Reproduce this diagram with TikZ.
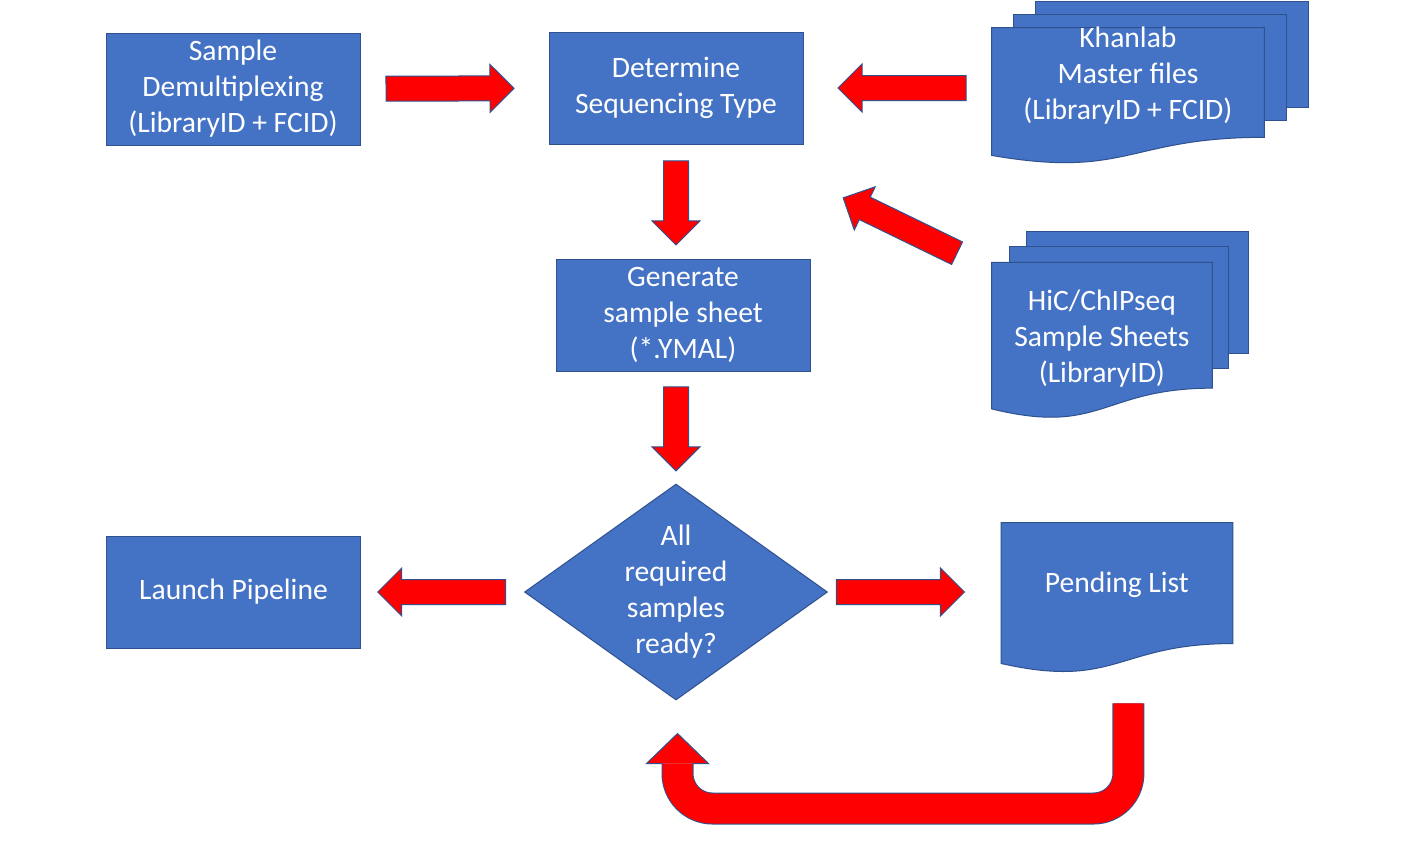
\documentclass[tikz,border=0pt]{standalone}
\usepackage{fontspec}
\setmainfont{Carlito}
\usetikzlibrary{shapes.geometric, shapes.arrows, positioning, calc}
\definecolor{boxblue}{RGB}{68,114,196}
\definecolor{edgeblue}{RGB}{47,82,143}
\definecolor{arrowred}{RGB}{255,0,0}

\begin{document}
\begin{tikzpicture}[
    x=0.5pt, y=-0.5pt,
    node distance=94pt,
    every node/.style={font=\fontsize{14.8}{18}\selectfont, text=white},
    process/.style={rectangle, minimum width=127pt, minimum height=56pt,
                    align=center, draw=edgeblue, fill=boxblue, line width=0.5pt},
    decision/.style={diamond, aspect=1.4, minimum width=151.5pt, minimum height=108pt,
                     inner sep=0pt, align=center, draw=edgeblue, fill=boxblue, line width=0.5pt},
    docframe/.style={rectangle, inner sep=0pt},
    doctext/.style={align=center},
    docshape/.style={draw=edgeblue, fill=boxblue, line width=0.5pt},
    blockarrow/.style={single arrow, draw=edgeblue, fill=arrowred, line width=0.5pt,
                       minimum width=23.5pt, minimum height=64pt,
                       inner xsep=0pt, inner ysep=6pt,
                       single arrow head extend=5.75pt, single arrow head indent=0pt,
                       anchor=tail, sloped, allow upside down},
    uturn/.style={draw=edgeblue, line width=0.5pt, double=arrowred,
                  double distance=15pt, rounded corners=17.5pt},
    uhead/.style={fill=arrowred, draw=edgeblue, line width=0.5pt}
]
\path[use as bounding box, fill=white] (0,0) rectangle (1422,848);

\node (determine) [process] at (676,88) {Determine\\Sequencing Type};
\node (sample) [process, left=of determine, yshift=-0.5pt] {Sample\\Demultiplexing\\(LibraryID + FCID)};
\node (generate) [process, below=57pt of determine, xshift=3.5pt] {Generate\\sample sheet\\(*.YMAL)};
\node (diamond) [decision, below=56pt of generate, xshift=-3.5pt] {All\\required\\samples\\ready?};
\node (launch) [process, left=81.5pt of diamond] {Launch Pipeline};

% document shapes
\node (khanlab) [docframe, minimum width=136pt, minimum height=68pt,
                 right=of determine, yshift=-4pt] {};
\node (hic) [docframe, minimum width=110pt, minimum height=78pt,
             below=49pt of khanlab.south west, anchor=north west] {};
\node (pending) [docframe, minimum width=115.5pt, minimum height=75pt,
                 right=86.5pt of diamond, yshift=-3pt] {};

\filldraw[docshape] ([shift={(44,-26)}]khanlab.north west) rectangle ([shift={(44,-57)}]khanlab.south east);
\filldraw[docshape] ([shift={(22,-13)}]khanlab.north west) rectangle ([shift={(22,-44)}]khanlab.south east);
\filldraw[docshape] ([shift={(35,-31)}]hic.north west) rectangle ([shift={(36,-66)}]hic.south east);
\filldraw[docshape] ([shift={(18,-16)}]hic.north west) rectangle ([shift={(16,-51)}]hic.south east);
\foreach \doc in {khanlab, hic, pending}
  \filldraw[docshape] (\doc.north west) -- (\doc.north east)
    -- ($(\doc.north east)!0.802!(\doc.south east)$)
    .. controls ($(\doc.north)!0.802!(\doc.south)$) and ($(\doc.north)!1.1075!(\doc.south)$)
    .. ($(\doc.north west)!0.934!(\doc.south west)$) -- cycle;

\node (khanlabtext) [doctext] at ([yshift=10pt]khanlab.center) {Khanlab\\Master files\\(LibraryID + FCID)};
\node (hictext) [doctext] at ([yshift=1pt]hic.center) {HiC/ChIPseq\\Sample Sheets\\(LibraryID)};
\node (pendingtext) [doctext] at ([yshift=6.5pt]pending.center) {Pending List};

% block arrows
\path (sample) -- node[blockarrow, pos=0.133] {} (determine);
\path (khanlab.west |- determine) -- node[blockarrow, pos=0.133] {} (determine);
\path (determine) -- node[blockarrow, pos=0.14, minimum height=42pt] {} (determine |- generate.north);
\path ([shift={(-34,-9)}]hic.north west) -- node[blockarrow, pos=0, minimum height=63.3pt] {} ([shift={(41,54)}]determine.south east);
\path (diamond.north |- generate.south) -- node[blockarrow, pos=0.133, minimum height=42pt] {} (diamond);
\path (diamond) -- node[blockarrow, pos=0.109] {} (launch);
\path (diamond) -- node[blockarrow, pos=0.046] {} (pending.west |- diamond);

% loop back from the pending list
\draw[uturn] ([shift={(11.5,30)}]pending.south) |- ([shift={(1.5,108)}]diamond.south)
    -- ([shift={(1.5,63)}]diamond.south);
\filldraw[uhead] ([shift={(-13.5,63)}]diamond.south) -- ([shift={(-29.5,63)}]diamond.south)
    -- ([shift={(1.5,33)}]diamond.south) -- ([shift={(32.5,63)}]diamond.south)
    -- ([shift={(16.5,63)}]diamond.south);

\end{tikzpicture}
\end{document}
